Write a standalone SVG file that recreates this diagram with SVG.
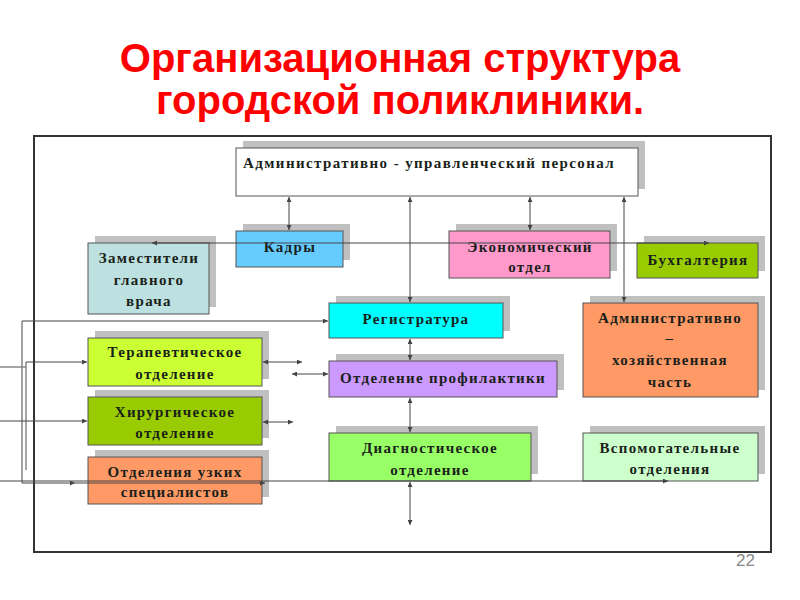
<svg xmlns="http://www.w3.org/2000/svg" width="800" height="600" viewBox="0 0 800 600">
<style>
.title{font-family:"Liberation Sans",Arial,sans-serif;font-weight:bold;font-size:40px;fill:#FF0000;text-anchor:middle}
.t{font-family:"Liberation Serif","Times New Roman",serif;font-weight:bold;font-size:15px;fill:#1a1f1a;text-anchor:middle;letter-spacing:1.3px}
.sh{fill:#C0C0C0}
.bx{stroke:#555;stroke-width:1}
.ln{stroke:#444;stroke-width:1;fill:none}
.gl{stroke:#888;stroke-width:1.5;fill:none}
.da{marker-start:url(#ah);marker-end:url(#ah)}
.ea{marker-end:url(#ah)}
.pg{font-family:"Liberation Sans",Arial,sans-serif;font-size:17px;fill:#888}
</style>
<defs>
<marker id="ah" viewBox="0 0 6 6" refX="6" refY="3" markerWidth="6" markerHeight="5" markerUnits="userSpaceOnUse" orient="auto-start-reverse">
<path d="M0,0 L6,3 L0,6 z" fill="#444"/>
</marker>
</defs>
<rect width="800" height="600" fill="#fff"/>
<text class="title" x="400" y="72">Организационная структура</text>
<text class="title" x="400" y="114">городской поликлиники.</text>
<rect x="34" y="136" width="737" height="416" fill="none" stroke="#333" stroke-width="2"/>

<g id="admin"><rect class="sh" x="243" y="141" width="402" height="48"/><rect class="bx" x="236" y="148" width="402" height="48" fill="#fff"/>
<text class="t" x="243" y="168" style="text-anchor:start" textLength="372" lengthAdjust="spacing">Административно - управленческий персонал</text></g>
<g id="zam"><rect class="sh" x="95" y="236" width="121" height="71"/><rect class="bx" x="88" y="243" width="121" height="71" fill="#BDE0E0"/>
<text class="t" x="149" y="263">Заместители</text><text class="t" x="149" y="285">главного</text><text class="t" x="149" y="306">врача</text></g>
<g id="kadry"><rect class="sh" x="243" y="224" width="107" height="36"/><rect class="bx" x="236" y="231" width="107" height="36" fill="#66CCFF"/>
<text class="t" x="290" y="252">Кадры</text></g>
<g id="econ"><rect class="sh" x="456" y="224" width="161" height="47"/><rect class="bx" x="449" y="231" width="161" height="47" fill="#FF99CC"/>
<text class="t" x="530" y="252">Экономический</text><text class="t" x="530" y="272">отдел</text></g>
<g id="buh"><rect class="sh" x="644" y="236" width="121" height="35"/><rect class="bx" x="637" y="243" width="121" height="35" fill="#99CC00"/>
<text class="t" x="698" y="265">Бухгалтерия</text></g>
<g id="reg"><rect class="sh" x="336" y="296" width="174" height="35"/><rect class="bx" x="329" y="303" width="174" height="35" fill="#00FFFF"/>
<text class="t" x="416" y="324">Регистратура</text></g>
<g id="prof"><rect class="sh" x="336" y="354" width="228" height="36"/><rect class="bx" x="329" y="361" width="228" height="36" fill="#CC99FF"/>
<text class="t" x="443" y="383">Отделение профилактики</text></g>
<g id="diag"><rect class="sh" x="336" y="426" width="202" height="48"/><rect class="bx" x="329" y="433" width="202" height="48" fill="#99FF66"/>
<text class="t" x="430" y="453">Диагностическое</text><text class="t" x="430" y="475">отделение</text></g>
<g id="ahch"><rect class="sh" x="590" y="296" width="175" height="94"/><rect class="bx" x="583" y="303" width="175" height="94" fill="#FF9966"/>
<text class="t" x="670" y="323">Административно</text><text class="t" x="670" y="343">–</text><text class="t" x="670" y="365">хозяйственная</text><text class="t" x="670" y="387">часть</text></g>
<g id="vsp"><rect class="sh" x="590" y="426" width="175" height="48"/><rect class="bx" x="583" y="433" width="175" height="48" fill="#CCFFCC"/>
<text class="t" x="670" y="453">Вспомогательные</text><text class="t" x="670" y="474">отделения</text></g>
<g id="ter"><rect class="sh" x="95" y="331" width="174" height="48"/><rect class="bx" x="88" y="338" width="174" height="48" fill="#CCFF33"/>
<text class="t" x="175" y="357">Терапевтическое</text><text class="t" x="175" y="379">отделение</text></g>
<g id="hir"><rect class="sh" x="95" y="390" width="174" height="48"/><rect class="bx" x="88" y="397" width="174" height="48" fill="#99CC00"/>
<text class="t" x="175" y="417">Хирургическое</text><text class="t" x="175" y="438">отделение</text></g>
<g id="uzk"><rect class="sh" x="95" y="450" width="174" height="47"/><rect class="bx" x="88" y="457" width="174" height="47" fill="#FF9966"/>
<text class="t" x="175" y="477">Отделения узких</text><text class="t" x="175" y="497">специалистов</text></g>

<g id="connectors">
<line class="ln da" x1="289" y1="197" x2="289" y2="230"/>
<line class="ln da" x1="410" y1="197" x2="410" y2="302"/>
<line class="ln da" x1="530" y1="197" x2="530" y2="230"/>
<line class="ln da" x1="624" y1="197" x2="624" y2="302"/>
<line class="ln da" x1="410" y1="339" x2="410" y2="360"/>
<line class="ln da" x1="410" y1="398" x2="410" y2="432"/>
<line class="ln da" x1="410" y1="482" x2="410" y2="525"/>
<line class="ln da" x1="263" y1="362" x2="302" y2="362"/>
<line class="ln da" x1="292" y1="374" x2="328" y2="374"/>
<line class="ln da" x1="263" y1="422" x2="293" y2="422"/>
<path class="ln da" d="M152,243 H709"/>
<path class="ln ea" d="M22,321 H328"/>
<path class="ln ea" d="M22,321 V483 H75"/>
<path class="ln ea" d="M75,483 H265"/>
<path class="gl" d="M0,367 H26 M26,362 V470"/>
<path class="ln ea" d="M26,362 H87"/>
<path class="ln ea" d="M0,421 H87"/>
<path class="ln ea" d="M0,481 H668"/>
</g>
<text class="pg" x="736" y="566">22</text>
</svg>
